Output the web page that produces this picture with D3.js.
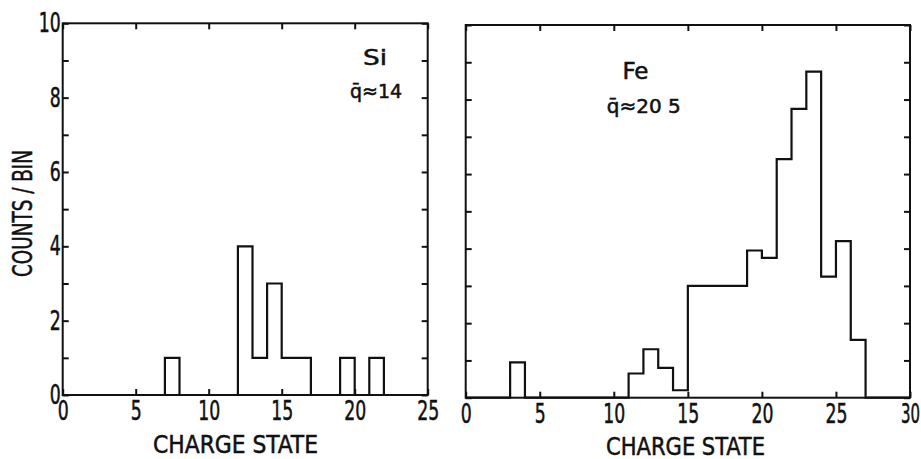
<!DOCTYPE html>
<html><head><meta charset="utf-8">
<script src="https://cdn.jsdelivr.net/npm/d3@7/dist/d3.min.js"></script>
<style>
body{margin:0;background:#fff;}
svg{display:block;}
text{font-family:"DejaVu Sans","Liberation Sans",sans-serif;font-stretch:condensed;fill:#111;stroke:#111;stroke-width:0.5px;}
</style></head>
<body>
<script>
// Data
const siCounts = [0,0,0,0,0,0,0,1,0,0,0,0,4,1,3,1,1,0,0,1,0,1,0,0,0]; // bins 0..24 (width 1)
const feCounts = [0,0,0,0.95,0,0,0,0,0,0,0,0.65,1.3,0.8,0.2,3,3,3,3,3.95,3.75,6.4,7.75,8.75,3.25,4.2,1.55,0,0,0]; // bins 0..29
const yTicks = [0,1,2,3,4,5,6,7,8,9,10];
const siXTicks = [0,5,10,15,20,25];
const feXTicks = [0,5,10,15,20,25,30];

const W = 921, H = 459;
const svg = d3.select("body").append("svg").attr("width", W).attr("height", H);

const panels = [
  {counts: siCounts, xmax: 25, xt: siXTicks, x0: 62.7, x1: 427.7, y0: 395, y1: 23.3, yLabels: true,
   title: "Si", tx: 363, ty: 65, tsize: 22, tlen: 24, q: "q\u0304\u224814", qx: 350, qy: 98, qlen: 52,
   lx: 153, ly: 453, llen: 165},
  {counts: feCounts, xmax: 30, xt: feXTicks, x0: 465.7, x1: 910, y0: 397.7, y1: 25, yLabels: false,
   title: "Fe", tx: 622.5, ty: 79, tsize: 23, tlen: 26, q: "q\u0304\u224820 5", qx: 606.7, qy: 113, qlen: 74,
   lx: 606, ly: 455, llen: 159}
];

panels.forEach(p => {
  const x = d3.scaleLinear().domain([0, p.xmax]).range([p.x0, p.x1]);
  const y = d3.scaleLinear().domain([0, 10]).range([p.y0, p.y1]);
  const g = svg.append("g");

  // frame
  g.append("rect").attr("x", p.x0).attr("y", p.y1).attr("width", p.x1 - p.x0).attr("height", p.y0 - p.y1)
    .attr("fill", "none").attr("stroke", "#111").attr("stroke-width", 2);

  // left axis
  const la = d3.axisLeft(y).tickValues(yTicks).tickSize(-6).tickPadding(2)
    .tickFormat(d => (p.yLabels && d % 2 === 0) ? d : "");
  const lag = g.append("g").attr("transform", `translate(${p.x0},0)`).call(la);
  // right axis
  const ra = d3.axisRight(y).tickValues(yTicks).tickSize(-6).tickFormat("");
  const rag = g.append("g").attr("transform", `translate(${p.x1},0)`).call(ra);
  // bottom axis
  const ba = d3.axisBottom(x).tickValues(p.xt).tickSize(-6).tickPadding(6);
  const bag = g.append("g").attr("transform", `translate(0,${p.y0})`).call(ba);
  // top axis
  const ta = d3.axisTop(x).tickValues(p.xt).tickSize(-6).tickFormat("");
  const tag = g.append("g").attr("transform", `translate(0,${p.y1})`).call(ta);

  [lag, rag, bag, tag].forEach(a => {
    a.select(".domain").remove();
    a.selectAll(".tick line").attr("stroke", "#111").attr("stroke-width", 2);
    a.selectAll(".tick text").attr("font-size", 27).attr("font-family", null).attr("fill", "#111")
      .each(function() {
        const t = d3.select(this).text();
        if (t.length) d3.select(this).attr("textLength", t.length * (t === "30" ? 9.5 : 11)).attr("lengthAdjust", "spacingAndGlyphs");
      });
  });

  // histogram step outline
  const pts = p.counts.map((c, i) => [i, c]);
  pts.push([p.counts.length, 0]);
  const line = d3.line().x(d => x(d[0])).y(d => y(d[1])).curve(d3.curveStepAfter);
  g.append("path").attr("d", line(pts)).attr("fill", "none").attr("stroke", "#111")
    .attr("stroke-width", 2.2).attr("stroke-linejoin", "miter");

  // annotations
  g.append("text").attr("x", p.tx).attr("y", p.ty).attr("font-size", p.tsize)
    .attr("textLength", p.tlen).attr("lengthAdjust", "spacingAndGlyphs").text(p.title);
  g.append("text").attr("x", p.qx).attr("y", p.qy).attr("font-size", 20)
    .attr("textLength", p.qlen).attr("lengthAdjust", "spacingAndGlyphs").text(p.q);

  // x label
  g.append("text").attr("x", p.lx).attr("y", p.ly)
    .attr("font-size", 25).attr("textLength", p.llen).attr("lengthAdjust", "spacingAndGlyphs")
    .text("CHARGE STATE");
});

// y label
svg.append("text").attr("transform", "translate(32,277) rotate(-90)")
  .attr("font-size", 26).attr("textLength", 127).attr("lengthAdjust", "spacingAndGlyphs")
  .text("COUNTS / BIN");
</script>
</body></html>
